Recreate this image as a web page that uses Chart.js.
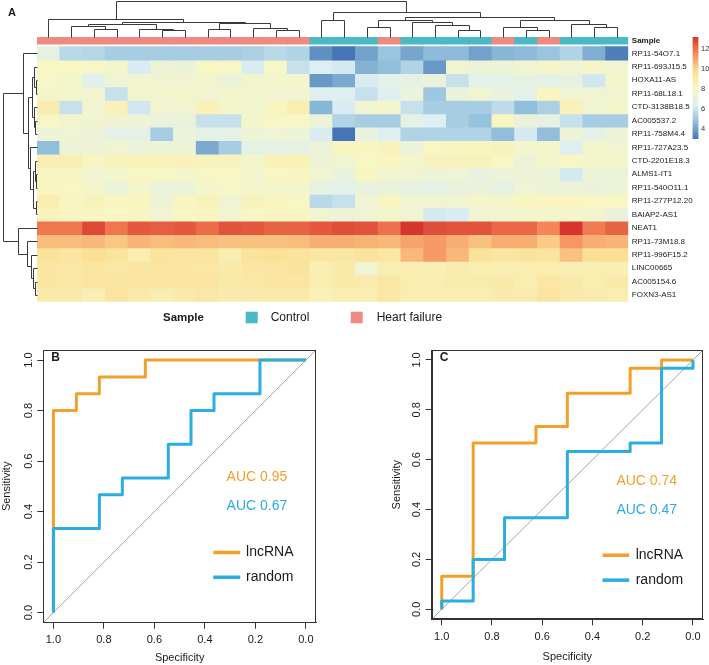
<!DOCTYPE html>
<html>
<head>
<meta charset="utf-8">
<script src="https://cdn.jsdelivr.net/npm/chart.js@4/dist/chart.umd.min.js"></script>
<style>
html,body{margin:0;padding:0;background:#ffffff;}
#wrap{position:relative;width:709px;height:665px;overflow:hidden;background:#fff;}
canvas{position:absolute;display:block;}
</style>
</head>
<body>
<div id="wrap">
<canvas id="heat" width="709" height="330" style="left:0;top:0;width:709px;height:330px"></canvas>
<canvas id="cbar" width="23" height="116" style="left:686px;top:30px;width:23px;height:116px"></canvas>
<canvas id="rocB" width="330" height="335" style="left:0;top:330px;width:330px;height:335px"></canvas>
<canvas id="rocC" width="349" height="335" style="left:360px;top:330px;width:349px;height:335px"></canvas>
</div>
<script>
// ---------------- DATA ----------------
const genes = ['RP11-54O7.1','RP11-693J15.5','HOXA11-AS','RP11-68L18.1','CTD-3138B18.5','AC005537.2',
  'RP11-758M4.4','RP11-727A23.5','CTD-2201E18.3','ALMS1-IT1','RP11-540O11.1','RP11-277P12.20',
  'BAIAP2-AS1','NEAT1','RP11-73M18.8','RP11-996F15.2','LINC00665','AC005154.6','FOXN3-AS1'];

const samples = ['S01','S02','S03','S04','S05','S06','S07','S08','S09','S10','S11','S12','S13',
  'S14','S15','S16','S17','S18','S19','S20','S21','S22','S23','S24','S25','S26'];

const sampleGroups = ['Heart failure','Heart failure','Heart failure','Heart failure','Heart failure','Heart failure',
  'Heart failure','Heart failure','Heart failure','Heart failure','Heart failure','Heart failure',
  'Control','Control','Control','Heart failure','Control','Control','Control','Control',
  'Heart failure','Control','Heart failure','Control','Control','Control'];

const groupNames = ['Control','Heart failure'];

// expression matrix: one row per gene, one value per sample (column order above)
const expr = [
 [7.0,5.6,5.5,5.2,5.2,5.2,5.2,5.2,5.2,5.3,5.6,5.4, 3.6,3.0,4.0,4.9,4.1,4.6,4.6,4.0,4.5,4.6,4.9,5.4,4.3,3.2],
 [8.1,8.1,8.0,7.8,6.3,7.4,7.2,8.1,8.0,6.3,8.0,5.9, 6.4,6.2,4.4,4.7,5.4,3.8,7.6,7.4,7.4,7.6,7.9,7.6,7.9,7.6],
 [8.0,7.8,6.6,7.5,7.6,7.6,7.6,7.7,7.3,7.7,7.8,7.8, 3.8,4.2,6.3,6.8,7.0,7.2,5.9,6.8,6.8,7.0,6.8,7.0,6.1,7.8],
 [7.8,7.8,7.6,5.9,7.7,7.7,7.8,7.6,7.8,7.7,7.6,7.6, 6.5,6.5,5.9,6.5,7.3,5.0,7.2,7.6,7.1,6.8,8.2,7.6,7.6,7.6],
 [8.9,5.9,7.6,8.5,6.1,7.6,7.6,8.5,7.8,7.6,8.2,8.7, 4.5,6.3,7.6,7.8,5.9,5.2,5.2,5.2,5.7,4.7,5.3,8.5,7.5,7.8],
 [8.0,7.7,7.6,7.6,7.4,7.2,7.2,5.9,5.9,7.8,8.0,8.0, 7.4,5.4,5.2,5.2,6.9,6.4,5.2,4.8,8.2,7.2,7.0,5.9,5.2,5.2],
 [7.4,7.5,7.4,6.9,6.9,5.2,7.3,6.9,6.9,7.4,7.5,7.4, 6.3,3.0,7.1,6.4,5.4,5.4,5.4,5.4,4.7,6.2,4.7,7.4,6.9,7.4],
 [4.7,7.4,7.4,7.6,7.3,7.4,7.4,4.2,5.2,6.9,6.9,7.0, 7.4,8.2,8.2,8.3,7.3,8.1,8.2,8.2,8.3,7.8,7.8,6.5,7.8,7.6],
 [8.6,8.6,8.2,8.3,8.4,8.4,8.5,8.3,8.3,7.8,8.5,8.5, 7.4,7.6,8.1,8.2,7.8,8.3,8.3,8.3,8.1,7.4,7.8,8.1,7.8,7.8],
 [8.2,8.2,7.6,7.8,8.1,8.1,7.8,8.1,8.1,7.7,8.1,8.2, 7.6,7.1,8.2,7.6,7.6,7.4,7.5,7.1,7.4,7.4,7.3,6.2,7.4,7.4],
 [8.2,8.1,7.8,7.3,7.8,7.3,7.3,7.8,8.0,7.8,7.8,7.8, 7.0,6.8,7.1,7.2,7.0,6.9,7.2,7.2,7.0,7.5,7.4,7.4,7.2,7.4],
 [8.8,8.2,8.3,8.2,8.2,7.4,8.2,8.4,7.5,8.3,8.2,8.1, 5.6,5.9,7.5,8.2,7.6,7.6,7.6,7.8,7.8,8.2,8.2,8.2,8.1,8.1],
 [8.4,8.2,8.2,8.1,8.2,7.6,8.1,8.2,7.6,8.1,8.2,8.2, 7.6,7.4,7.5,7.8,7.6,6.2,6.3,7.6,7.6,7.8,7.8,7.8,7.7,7.2],
 [11.9,11.9,12.8,11.9,12.5,12.4,12.5,12.1,12.6,12.5,12.3,12.3, 12.5,12.7,12.6,12.0,13.2,12.7,12.6,12.6,12.2,12.2,11.6,13.2,11.8,12.3],
 [10.5,10.5,10.6,10.3,10.7,10.5,10.6,10.5,10.4,10.4,10.4,10.5, 10.8,10.8,10.7,10.6,11.0,11.2,10.8,10.4,10.8,10.8,10.2,11.3,10.8,10.7],
 [9.6,9.3,9.8,9.5,8.8,9.5,9.4,9.4,8.7,9.5,9.7,9.5, 9.2,9.2,9.6,9.2,10.6,11.2,10.6,9.6,9.3,9.5,9.4,10.4,9.8,9.8],
 [9.3,9.2,9.4,9.2,9.3,9.4,9.3,9.2,9.0,9.3,9.4,9.5, 8.6,9.0,7.6,8.7,8.8,8.6,8.9,8.8,8.6,8.7,8.8,8.6,8.7,8.6],
 [9.3,9.2,9.4,9.3,9.3,9.4,9.4,9.3,9.0,9.2,9.3,9.3, 8.8,9.0,8.9,9.2,8.8,8.8,8.9,8.9,9.0,8.8,9.2,9.0,8.8,9.0],
 [9.0,9.0,8.6,9.4,9.0,8.7,9.0,9.2,8.9,8.9,9.0,9.0, 8.5,8.8,8.8,9.2,8.7,8.7,8.8,8.8,8.9,8.9,9.4,9.0,8.9,8.8]
];

// hierarchical clustering merges: [childA, childB, height]; negative = leaf -(index+1), positive = earlier merge (1-based)
const colTreeMerges = [
 [-6,-7,7],[-11,-12,7],[-3,-4,8.7],[-5,1,8.7],[-8,-9,8.7],[-2,3,11],[-10,2,9.7],[6,4,13],[5,7,14],[8,9,14.7],
 [-1,10,18],[-19,-20,7.7],[-22,-23,7.7],[-15,-16,10.3],[-18,12,12],[-17,15,14.7],[14,16,17],[-21,13,10.3],
 [-25,-26,10.3],[-24,19,13.7],[18,20,17],[17,21,19.7],[-13,-14,17],[23,22,24.7],[11,24,36.5]
];
const rowTreeMerges = [
 [-3,-4,1.5],[-2,1,3],[-6,-7,2],[-5,3,3.5],[2,4,5],[-10,-11,1],[-9,6,2.5],[-12,-13,1.5],[7,8,4],[-8,9,7],
 [5,10,9],[-1,11,14.3],[-18,-19,2],[-17,13,3.7],[-16,14,6],[-15,15,9.7],[-14,16,18.7],[12,17,34.3]
];

const colorbarTicks = [4, 6, 8, 10, 12];

// ROC curves (specificity, sensitivity)
const rocB_lnc_spec  = [1,1,0.909,0.909,0.818,0.818,0.636,0.636,0];
const rocB_lnc_sens  = [0,0.8,0.8,0.867,0.867,0.933,0.933,1,1];
const rocB_rand_spec = [1,1,0.818,0.818,0.727,0.727,0.545,0.545,0.455,0.455,0.364,0.364,0.182,0.182,0];
const rocB_rand_sens = [0,0.333,0.333,0.467,0.467,0.533,0.533,0.667,0.667,0.8,0.8,0.867,0.867,1,1];
const rocC_lnc_spec  = [1,1,0.875,0.875,0.625,0.625,0.5,0.5,0.25,0.25,0.125,0.125,0];
const rocC_lnc_sens  = [0,0.133,0.133,0.667,0.667,0.733,0.733,0.867,0.867,0.967,0.967,1,1];
const rocC_rand_spec = [1,1,0.875,0.875,0.75,0.75,0.5,0.5,0.25,0.25,0.125,0.125,0,0];
const rocC_rand_sens = [0,0.033,0.033,0.2,0.2,0.367,0.367,0.633,0.633,0.667,0.667,0.967,0.967,1];
const aucB = ['AUC 0.95','AUC 0.67'];
const aucC = ['AUC 0.74','AUC 0.47'];
const rocTicks = [0,0.2,0.4,0.6,0.8,1.0];
const rocSeries = ['lncRNA','random'];

// ---------------- STYLE ----------------
const FONT = "'Liberation Sans', Arial, Helvetica, sans-serif";
Chart.defaults.font.family = FONT;
Chart.defaults.color = '#1a1a1a';
const HEAT_PAL = ['#4575B4','#91BFDB','#DDEFF3','#F8F6C3','#FBDF94','#F68B5C','#D5352A'];
const GROUP_COLORS = {'Control':'#48B9C5','Heart failure':'#EF8A80'};
const ORANGE = '#F3A02A', BLUE = '#2BACE2';

const allVals = expr.flat();
const vmin = Math.min(...allVals), vmax = Math.max(...allVals);
function hex(h){return [1,3,5].map(i=>parseInt(h.substr(i,2),16));}
const PAL_RGB = HEAT_PAL.map(hex);
function heatColor(v){
  let t = (v - vmin) / (vmax - vmin) * (PAL_RGB.length - 1);
  t = Math.max(0, Math.min(PAL_RGB.length - 1, t));
  const i = Math.min(PAL_RGB.length - 2, Math.floor(t)), f = t - i;
  const c = PAL_RGB[i].map((a,k)=>Math.round(a + (PAL_RGB[i+1][k]-a)*f));
  return `rgb(${c[0]},${c[1]},${c[2]})`;
}

// layout in row units
const ROWS = genes.length;
const GAP = 0.18, ANN = 0.52, DEND = 2.74;
const annLo = ROWS + GAP, annHi = ROWS + GAP + ANN;
const Y_MAX = 22.48;
const ROW_DEND_SPAN = 1.508; // in column units

function treeSegments(merges, leafPos){
  const pos = [], hgt = [], segs = [];
  const get = id => id < 0 ? {p: leafPos(-id-1), h: 0} : {p: pos[id-1], h: hgt[id-1]};
  merges.forEach(([a,b,h],k)=>{
    const A = get(a), B = get(b);
    pos[k] = (A.p + B.p)/2; hgt[k] = h;
    segs.push([A.p,A.h,A.p,h],[A.p,h,B.p,h],[B.p,h,B.p,B.h]);
  });
  return segs;
}

const heatDecor = {
  id:'heatDecor',
  afterDatasetsDraw(chart){
    const {ctx, scales:{x,y}, chartArea:a} = chart;
    ctx.save();
    ctx.strokeStyle = '#3a3a3a'; ctx.lineWidth = 1;
    // column dendrogram
    const hmaxC = Math.max(...colTreeMerges.map(m=>m[2]));
    const cx = p => Math.round(x.getPixelForValue(p)) + 0.5;
    const cy = h => Math.round(y.getPixelForValue(annHi + h/hmaxC*DEND)) + 0.5;
    ctx.beginPath();
    treeSegments(colTreeMerges, i=>i).forEach(([p1,h1,p2,h2])=>{ctx.moveTo(cx(p1),cy(h1));ctx.lineTo(cx(p2),cy(h2));});
    ctx.stroke();
    // row dendrogram
    const hmaxR = Math.max(...rowTreeMerges.map(m=>m[2]));
    const rx = h => Math.round(x.getPixelForValue(-0.5 - h/hmaxR*ROW_DEND_SPAN)) + 0.5;
    const ry = p => Math.round(y.getPixelForValue(p)) + 0.5;
    ctx.beginPath();
    treeSegments(rowTreeMerges, r=>ROWS-0.5-r).forEach(([p1,h1,p2,h2])=>{ctx.moveTo(rx(h1),ry(p1));ctx.lineTo(rx(h2),ry(p2));});
    ctx.stroke();
    // row labels
    ctx.fillStyle = '#1a1a1a'; ctx.textAlign='left'; ctx.textBaseline='middle';
    ctx.font = `8px ${FONT}`;
    genes.forEach((g,r)=>ctx.fillText(g, a.right + 3.5, y.getPixelForValue(ROWS-0.5-r)));
    ctx.font = `bold 8px ${FONT}`;
    ctx.fillText('Sample', a.right + 3.5, y.getPixelForValue((annLo+annHi)/2));
    // panel letter
    ctx.font = `bold 11px ${FONT}`;
    ctx.fillText('A', 8, 13);
    // annotation legend
    ctx.font = `bold 11.5px ${FONT}`;
    ctx.fillText('Sample', 163, 317.5);
    ctx.font = `12px ${FONT}`;
    const lx = [245.7, 350.7], tx = [270.7, 376.7];
    groupNames.forEach((g,i)=>{
      ctx.fillStyle = GROUP_COLORS[g];
      ctx.fillRect(lx[i], 311.7, 12, 11.6);
      ctx.fillStyle = '#1a1a1a';
      ctx.fillText(g, tx[i], 317.5);
    });
    ctx.restore();
  }
};

const heatDatasets = genes.map((g,r)=>({
  label:g,
  data: samples.map(()=>[ROWS-1-r, ROWS-r]),
  backgroundColor: expr[r].map(heatColor)
}));
heatDatasets.push({
  label:'Sample',
  data: samples.map(()=>[annLo, annHi]),
  backgroundColor: sampleGroups.map(g=>GROUP_COLORS[g])
});

new Chart(document.getElementById('heat'), {
  type:'bar',
  data:{labels:samples, datasets:heatDatasets},
  options:{
    responsive:false, animation:false, devicePixelRatio:1,
    layout:{padding:{left:37, right:80.7, top:0, bottom:28.3}},
    datasets:{bar:{grouped:false, barPercentage:1, categoryPercentage:1, borderWidth:0}},
    plugins:{legend:{display:false}, tooltip:{enabled:false}},
    scales:{
      x:{type:'category', display:false, offset:true},
      y:{type:'linear', display:false, min:0, max:Y_MAX}
    }
  },
  plugins:[heatDecor]
});

// colour key
new Chart(document.getElementById('cbar'), {
  type:'bar',
  data:{labels:['key'], datasets:[{
    data:[[vmin, vmax]],
    backgroundColor:(c)=>{
      const {ctx, chartArea, scales} = c.chart;
      if(!chartArea) return HEAT_PAL[3];
      const g = ctx.createLinearGradient(0, scales.y.getPixelForValue(vmin), 0, scales.y.getPixelForValue(vmax));
      HEAT_PAL.forEach((p,i)=>g.addColorStop(i/(HEAT_PAL.length-1), p));
      return g;
    },
    barPercentage:1, categoryPercentage:1, borderWidth:0
  }]},
  options:{
    responsive:false, animation:false, devicePixelRatio:1,
    layout:{padding:{left:6.5, right:0, top:7, bottom:6}},
    plugins:{legend:{display:false}, tooltip:{enabled:false}},
    scales:{
      x:{display:false},
      y:{position:'right', min:vmin, max:vmax,
         grid:{display:false, drawTicks:false}, border:{display:false},
         ticks:{font:{size:7.5}, padding:2.5, color:'#333'},
         afterBuildTicks:s=>{s.ticks = colorbarTicks.map(v=>({value:v}));},
         afterFit:s=>{s.width = 10.5;}}
    }
  }
});

// ROC panels
const rocDecor = {
  id:'rocDecor',
  afterDatasetsDraw(chart, args, o){
    const {ctx, scales:{x,y}, chartArea:a} = chart;
    ctx.save();
    ctx.strokeStyle = '#333'; ctx.lineWidth = 1;
    ctx.strokeRect(Math.round(a.left)+0.5, Math.round(a.top)+0.5, Math.round(a.right)-Math.round(a.left)-1, Math.round(a.bottom)-Math.round(a.top)-1);
    ctx.fillStyle = '#1a1a1a'; ctx.textBaseline='middle'; ctx.textAlign='left';
    ctx.font = `bold 12px ${FONT}`;
    ctx.fillText(o.letter, a.left + 8, a.top + 8);
    ctx.font = `14px ${FONT}`;
    ctx.textAlign='center';
    ctx.fillStyle = ORANGE; ctx.fillText(o.auc[0], x.getPixelForValue(o.aucX), y.getPixelForValue(o.aucY[0]));
    ctx.fillStyle = BLUE;   ctx.fillText(o.auc[1], x.getPixelForValue(o.aucX), y.getPixelForValue(o.aucY[1]));
    ctx.lineWidth = 3.5; ctx.lineCap='butt';
    [ORANGE, BLUE].forEach((col,i)=>{
      const yy = y.getPixelForValue(o.legY[i]);
      ctx.strokeStyle = col;
      ctx.beginPath(); ctx.moveTo(x.getPixelForValue(o.legX[0]), yy); ctx.lineTo(x.getPixelForValue(o.legX[1]), yy); ctx.stroke();
      ctx.fillStyle = '#1a1a1a'; ctx.textAlign='left';
      ctx.fillText(rocSeries[i], x.getPixelForValue(o.legText), yy);
    });
    ctx.restore();
  }
};

function rocChart(id, lncSpec, lncSens, randSpec, randSens, dims, deco){
  const pts = (s, t) => s.map((v,i)=>({x:v, y:t[i]}));
  return new Chart(document.getElementById(id), {
    type:'line',
    data:{datasets:[
      {label:'random', data:pts(randSpec, randSens), borderColor:BLUE, borderWidth:3, pointRadius:0, tension:0, fill:false, borderJoinStyle:'round'},
      {label:'lncRNA', data:pts(lncSpec, lncSens), borderColor:ORANGE, borderWidth:3, pointRadius:0, tension:0, fill:false, borderJoinStyle:'round'},
      {label:'reference', data:[{x:1.04,y:-0.04},{x:-0.04,y:1.04}], borderColor:'#a6a6a6', borderWidth:1, pointRadius:0, tension:0, fill:false}
    ]},
    options:{
      responsive:false, animation:false, devicePixelRatio:1,
      layout:{padding:dims.pad},
      plugins:{legend:{display:false}, tooltip:{enabled:false}, rocDecor:deco},
      scales:{
        x:{type:'linear', reverse:true, min:-0.04, max:1.04,
           grid:{display:true, drawOnChartArea:false, drawTicks:true, tickLength:6, color:'#333'},
           border:{display:true, color:'#333'},
           ticks:{font:{size:11}, padding:5, color:'#1a1a1a', callback:v=>v.toFixed(1), maxRotation:0},
           title:{display:true, text:'Specificity', font:{size:11}, padding:0, color:'#1a1a1a'},
           afterBuildTicks:s=>{s.ticks = rocTicks.map(v=>({value:v}));},
           afterFit:s=>{s.height = dims.xh;}},
        y:{type:'linear', min:-0.04, max:1.04,
           grid:{display:true, drawOnChartArea:false, drawTicks:true, tickLength:6, color:'#333'},
           border:{display:true, color:'#333'},
           ticks:{font:{size:11}, padding:1, color:'#1a1a1a', minRotation:90, maxRotation:90, crossAlign:'center', callback:v=>v.toFixed(1)},
           title:{display:true, text:'Sensitivity', font:{size:11}, padding:0, color:'#1a1a1a'},
           afterBuildTicks:s=>{s.ticks = rocTicks.map(v=>({value:v}));},
           afterFit:s=>{s.width = dims.yw;}}
      }
    },
    plugins:[rocDecor]
  });
}

rocChart('rocB', rocB_lnc_spec, rocB_lnc_sens, rocB_rand_spec, rocB_rand_sens,
  {pad:{left:0, top:20, right:14, bottom:0}, xh:42.3, yw:43.3},
  {letter:'B', auc:aucB, aucX:0.194, aucY:[0.537,0.421], legX:[0.367,0.26], legY:[0.238,0.14], legText:0.237});

rocChart('rocC', rocC_lnc_spec, rocC_lnc_sens, rocC_rand_spec, rocC_rand_sens,
  {pad:{left:30, top:20, right:6, bottom:1.7}, xh:44, yw:41.7},
  {letter:'C', auc:aucC, aucX:0.184, aucY:[0.513,0.396], legX:[0.36,0.254], legY:[0.217,0.117], legText:0.228});
</script>
</body>
</html>
